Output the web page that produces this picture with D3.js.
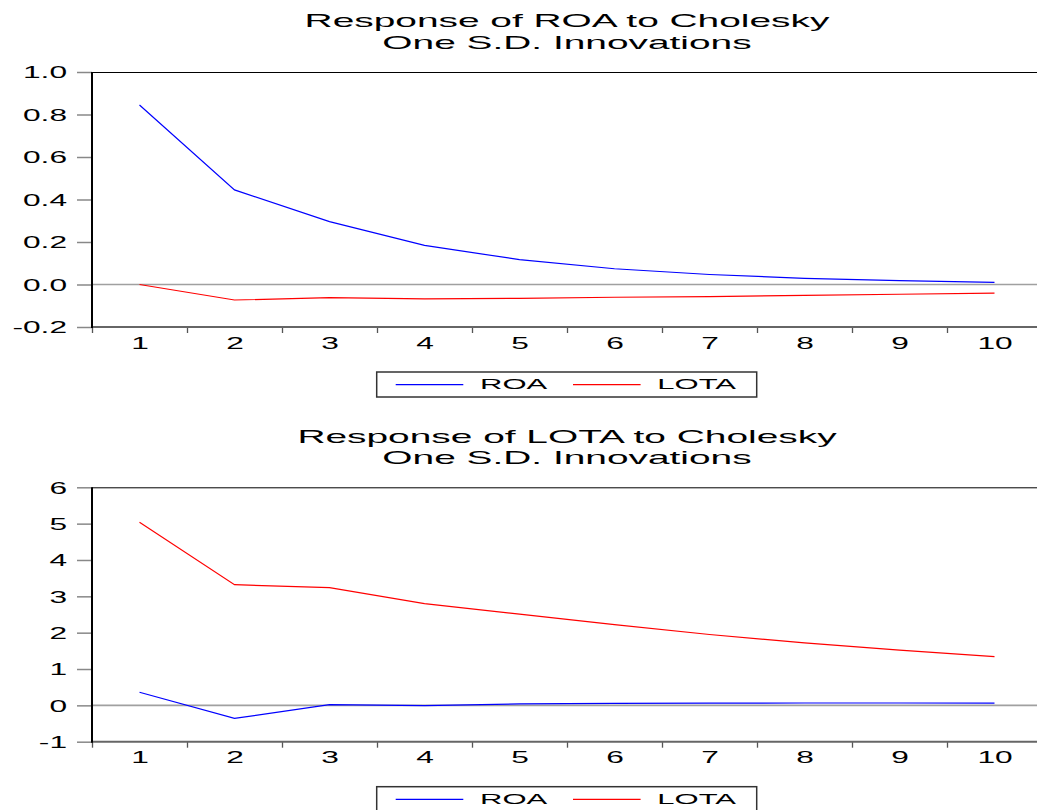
<!DOCTYPE html>
<html>
<head>
<meta charset="utf-8">
<script src="https://cdn.jsdelivr.net/npm/d3@7"></script>
<style>
  body { margin: 0; background: #fff; }
  svg { display: block; font-family: 'Liberation Sans', Arial, sans-serif; }
</style>
</head>
<body>
<div id="container"></div>
<script>
// DATA - impulse responses
const periods = [1, 2, 3, 4, 5, 6, 7, 8, 9, 10];
const roaToRoa = [0.845, 0.445, 0.296, 0.184, 0.117, 0.074, 0.047, 0.029, 0.018, 0.010];
const roaToLota = [0.000, -0.073, -0.062, -0.068, -0.065, -0.060, -0.057, -0.051, -0.046, -0.041];
const lotaToRoa = [0.36, -0.36, 0.02, -0.01, 0.04, 0.055, 0.063, 0.065, 0.065, 0.063];
const lotaToLota = [5.04, 3.32, 3.24, 2.80, 2.51, 2.22, 1.95, 1.72, 1.52, 1.34];
const roaTicks = [-0.2, 0.0, 0.2, 0.4, 0.6, 0.8, 1.0];
const lotaTicks = [-1, 0, 1, 2, 3, 4, 5, 6];
const seriesNames = ["ROA", "LOTA"];
const seriesColors = ["#0000ff", "#ff0000"];

const w = 1037, h = 810;
const margin = {left: 92, right: -5};
const plotW = 950;

const chart = d3.select('#container')
                .append('svg')
                .attr('width', w)
                .attr('height', h);

// stretch text horizontally like the original export
function stretch(sel, k) {
  sel.each(function() {
    const len = this.getComputedTextLength();
    d3.select(this).attr('textLength', len * k).attr('lengthAdjust', 'spacingAndGlyphs');
  });
}

const minusFmt = f => (d => f(d).replace('\u2212', '-'));

const panels = [
  {
    title: ["Response of ROA to Cholesky", "One S.D. Innovations"],
    top: 72, height: 255,
    domain: [-0.2, 1.0], ticks: roaTicks, fmt: minusFmt(d3.format('.1f')),
    values: [roaToRoa, roaToLota]
  },
  {
    title: ["Response of LOTA to Cholesky", "One S.D. Innovations"],
    top: 487.3, height: 254.4,
    domain: [-1, 6], ticks: lotaTicks, fmt: minusFmt(d3.format('d')),
    values: [lotaToRoa, lotaToLota]
  }
];

const x = d3.scaleLinear()
            .domain([0.5, periods.length + 0.5])
            .range([margin.left, margin.left + plotW]);
const boundaries = periods.map(p => p - 0.5);

panels.forEach(p => {
  const g = chart.append('g');
  const bottom = p.top + p.height;
  const y = d3.scaleLinear().domain(p.domain).range([bottom, p.top]);

  // TITLES
  g.selectAll('text.title')
   .data(p.title).enter()
   .append('text')
   .attr('class', 'title')
   .attr('x', margin.left + plotW / 2)
   .attr('y', (d, i) => p.top - 44.7 + i * 21.5)
   .attr('text-anchor', 'middle')
   .attr('font-size', 18.5)
   .attr('fill', '#000')
   .text(d => d)
   .call(stretch, 2.1);

  // frame top
  g.append('line')
   .attr('x1', margin.left).attr('x2', w)
   .attr('y1', p.top + 0.5).attr('y2', p.top + 0.5)
   .attr('stroke', '#000').attr('stroke-width', 1);

  // zero line
  g.append('line')
   .attr('x1', margin.left).attr('x2', w)
   .attr('y1', y(0)).attr('y2', y(0))
   .attr('stroke', '#a0a0a0').attr('stroke-width', 1.6);

  // Y-AXIS
  const yAxis = d3.axisLeft(y)
                  .tickValues(p.ticks)
                  .tickFormat(p.fmt)
                  .tickSize(15)
                  .tickPadding(10);
  const ya = g.append('g')
              .attr('transform', `translate(${margin.left},0)`)
              .call(yAxis);
  ya.select('.domain').remove();
  ya.selectAll('.tick line').attr('stroke', '#888').attr('stroke-width', 1.5);
  ya.selectAll('.tick text')
    .attr('font-size', 16.5)
    .attr('fill', '#000')
    .attr('dy', '0.36em')
    .call(stretch, 1.92);

  // X-AXIS ticks at period boundaries
  const xTicks = d3.axisBottom(x).tickValues(boundaries).tickSize(6).tickFormat('');
  const xa = g.append('g')
              .attr('transform', `translate(0,${bottom})`)
              .call(xTicks);
  xa.select('.domain').remove();
  xa.selectAll('.tick line').attr('stroke', '#555').attr('stroke-width', 1.3);

  const xLabels = d3.axisBottom(x).tickValues(periods).tickSize(0).tickPadding(10);
  const xl = g.append('g')
              .attr('transform', `translate(0,${bottom})`)
              .call(xLabels);
  xl.select('.domain').remove();
  xl.selectAll('.tick text')
    .attr('font-size', 16.5)
    .attr('fill', '#000')
    .attr('y', 21.5)
    .attr('dy', 0)
    .call(stretch, 1.92);

  // axis lines
  g.append('line')
   .attr('x1', margin.left).attr('x2', w)
   .attr('y1', bottom).attr('y2', bottom)
   .attr('stroke', '#666').attr('stroke-width', 2);
  g.append('line')
   .attr('x1', margin.left).attr('x2', margin.left)
   .attr('y1', p.top).attr('y2', bottom + 1)
   .attr('stroke', '#000').attr('stroke-width', 2);

  // LINES
  const line = d3.line()
                 .x((d, i) => x(periods[i]))
                 .y(d => y(d));
  g.selectAll('path.series')
   .data(p.values).enter()
   .append('path')
   .attr('class', 'series')
   .attr('d', d => line(d))
   .attr('fill', 'none')
   .attr('stroke', (d, i) => seriesColors[i])
   .attr('stroke-width', 1.2);

  // LEGEND
  const legend = g.append('g')
                  .attr('transform', `translate(376.7,${bottom + 45})`);
  legend.append('rect')
        .attr('width', 380).attr('height', 25)
        .attr('fill', '#fff')
        .attr('stroke', '#333').attr('stroke-width', 1.5);
  const item = legend.selectAll('g.item')
                     .data(seriesNames).enter()
                     .append('g')
                     .attr('class', 'item')
                     .attr('transform', (d, i) => `translate(${i * 177.3},0)`);
  item.append('line')
      .attr('x1', 19).attr('x2', 86.6)
      .attr('y1', 12.7).attr('y2', 12.7)
      .attr('stroke', (d, i) => seriesColors[i])
      .attr('stroke-width', 1.2);
  item.append('text')
      .attr('x', 103.3).attr('y', 17.3)
      .attr('font-size', 15.5)
      .attr('fill', '#000')
      .text(d => d)
      .call(stretch, 2.0);
});
</script>
</body>
</html>
